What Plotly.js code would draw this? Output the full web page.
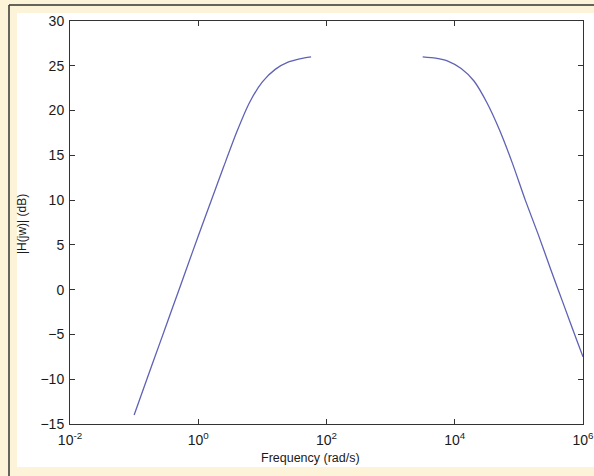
<!DOCTYPE html>
<html>
<head>
<meta charset="utf-8">
<script src="https://cdn.plot.ly/plotly-3.0.1.min.js"></script>
<style>
  html, body { margin: 0; padding: 0; background: #fdf3d8; }
  #chart { width: 594px; height: 476px; }
</style>
</head>
<body>
<div id="chart"></div>
<script>
// Low-frequency branch (rad/s, dB)
const freqLow = [0.1, 0.158, 0.251, 0.398, 0.631, 1, 1.585, 2.512, 3.981, 6.31, 10, 15.85, 25.12, 39.81, 57.5];
const magLow  = [-14.0, -10.0, -6.0, -2.0, 2.0, 6.0, 9.9, 13.8, 17.6, 20.9, 23.2, 24.6, 25.4, 25.8, 26.0];
// High-frequency branch (rad/s, dB)
const freqHigh = [3162, 5012, 7943, 12590, 19950, 31620, 50120, 79430, 125900, 199500, 316200, 501200, 794300, 1000000];
const magHigh  = [26.0, 25.85, 25.5, 24.7, 23.3, 20.9, 17.8, 14.1, 10.0, 6.2, 2.2, -1.7, -5.6, -7.5];

const xTickVals = [0.01, 1, 100, 10000, 1000000];
const xTickText = ['10<sup>-2</sup>', '10<sup>0</sup>', '10<sup>2</sup>', '10<sup>4</sup>', '10<sup>6</sup>'];
const yTickVals = [-15, -10, -5, 0, 5, 10, 15, 20, 25, 30];

const xs = freqLow.concat([null], freqHigh);
const ys = magLow.concat([null], magHigh);

const trace = {
  x: xs, y: ys, type: 'scatter', mode: 'lines',
  connectgaps: false,
  line: { color: '#5f62b4', width: 1.3, shape: 'spline', smoothing: 0.6 },
  hoverinfo: 'none'
};

const L = 70, R = 583, T = 21, B = 424, W = 594, H = 476;
const px = v => (v - L) / (R - L);
const py = v => (B - v) / (B - T);

const fam = 'Liberation Sans, Arial, sans-serif';
const tickFont = { family: fam, size: 14, color: '#1a1a1a' };

const layout = {
  width: W, height: H,
  margin: { l: L, r: W - R, t: T, b: H - B, pad: 0 },
  paper_bgcolor: '#fdf3d8',
  plot_bgcolor: '#ffffff',
  showlegend: false,
  font: { family: fam, size: 13, color: '#1a1a1a' },
  xaxis: {
    type: 'log', range: [-2, 6],
    tickvals: xTickVals, ticktext: xTickText,
    ticks: 'inside', ticklen: 5, tickwidth: 1, tickcolor: '#333',
    showline: true, linecolor: '#333', linewidth: 1, mirror: 'ticks',
    showgrid: false, zeroline: false,
    ticklabelstandoff: 3,
    ticklabeloverflow: 'allow',
    tickfont: tickFont
  },
  yaxis: {
    range: [-15, 30],
    tickvals: yTickVals,
    ticks: 'inside', ticklen: 5, tickwidth: 1, tickcolor: '#333',
    showline: true, linecolor: '#333', linewidth: 1, mirror: 'ticks',
    showgrid: false, zeroline: false,
    ticklabelstandoff: 2,
    tickfont: tickFont
  },
  shapes: [
    { type: 'rect', xref: 'paper', yref: 'paper', layer: 'below',
      x0: px(17), x1: px(600), y0: py(467), y1: py(13),
      fillcolor: '#ffffff', line: { width: 0 } },
    { type: 'line', xref: 'paper', yref: 'paper', layer: 'below',
      x0: px(9), x1: px(9), y0: py(490), y1: py(5),
      line: { color: '#333', width: 1.5 } },
    { type: 'line', xref: 'paper', yref: 'paper', layer: 'below',
      x0: px(9), x1: px(610), y0: py(5), y1: py(5),
      line: { color: '#333', width: 1.5 } }
  ],
  annotations: [
    { xref: 'paper', yref: 'paper', x: px(310), y: py(458), text: 'Frequency (rad/s)',
      showarrow: false, xanchor: 'center', yanchor: 'middle',
      font: { family: fam, size: 12.5, color: '#1a1a1a' } },
    { xref: 'paper', yref: 'paper', x: px(22), y: py(224), text: '|H(jw)| (dB)',
      showarrow: false, textangle: -90, xanchor: 'center', yanchor: 'middle',
      font: { family: fam, size: 12, color: '#1a1a1a' } }
  ]
};

Plotly.newPlot('chart', [trace], layout, { staticPlot: true, displayModeBar: false });
</script>
</body>
</html>
